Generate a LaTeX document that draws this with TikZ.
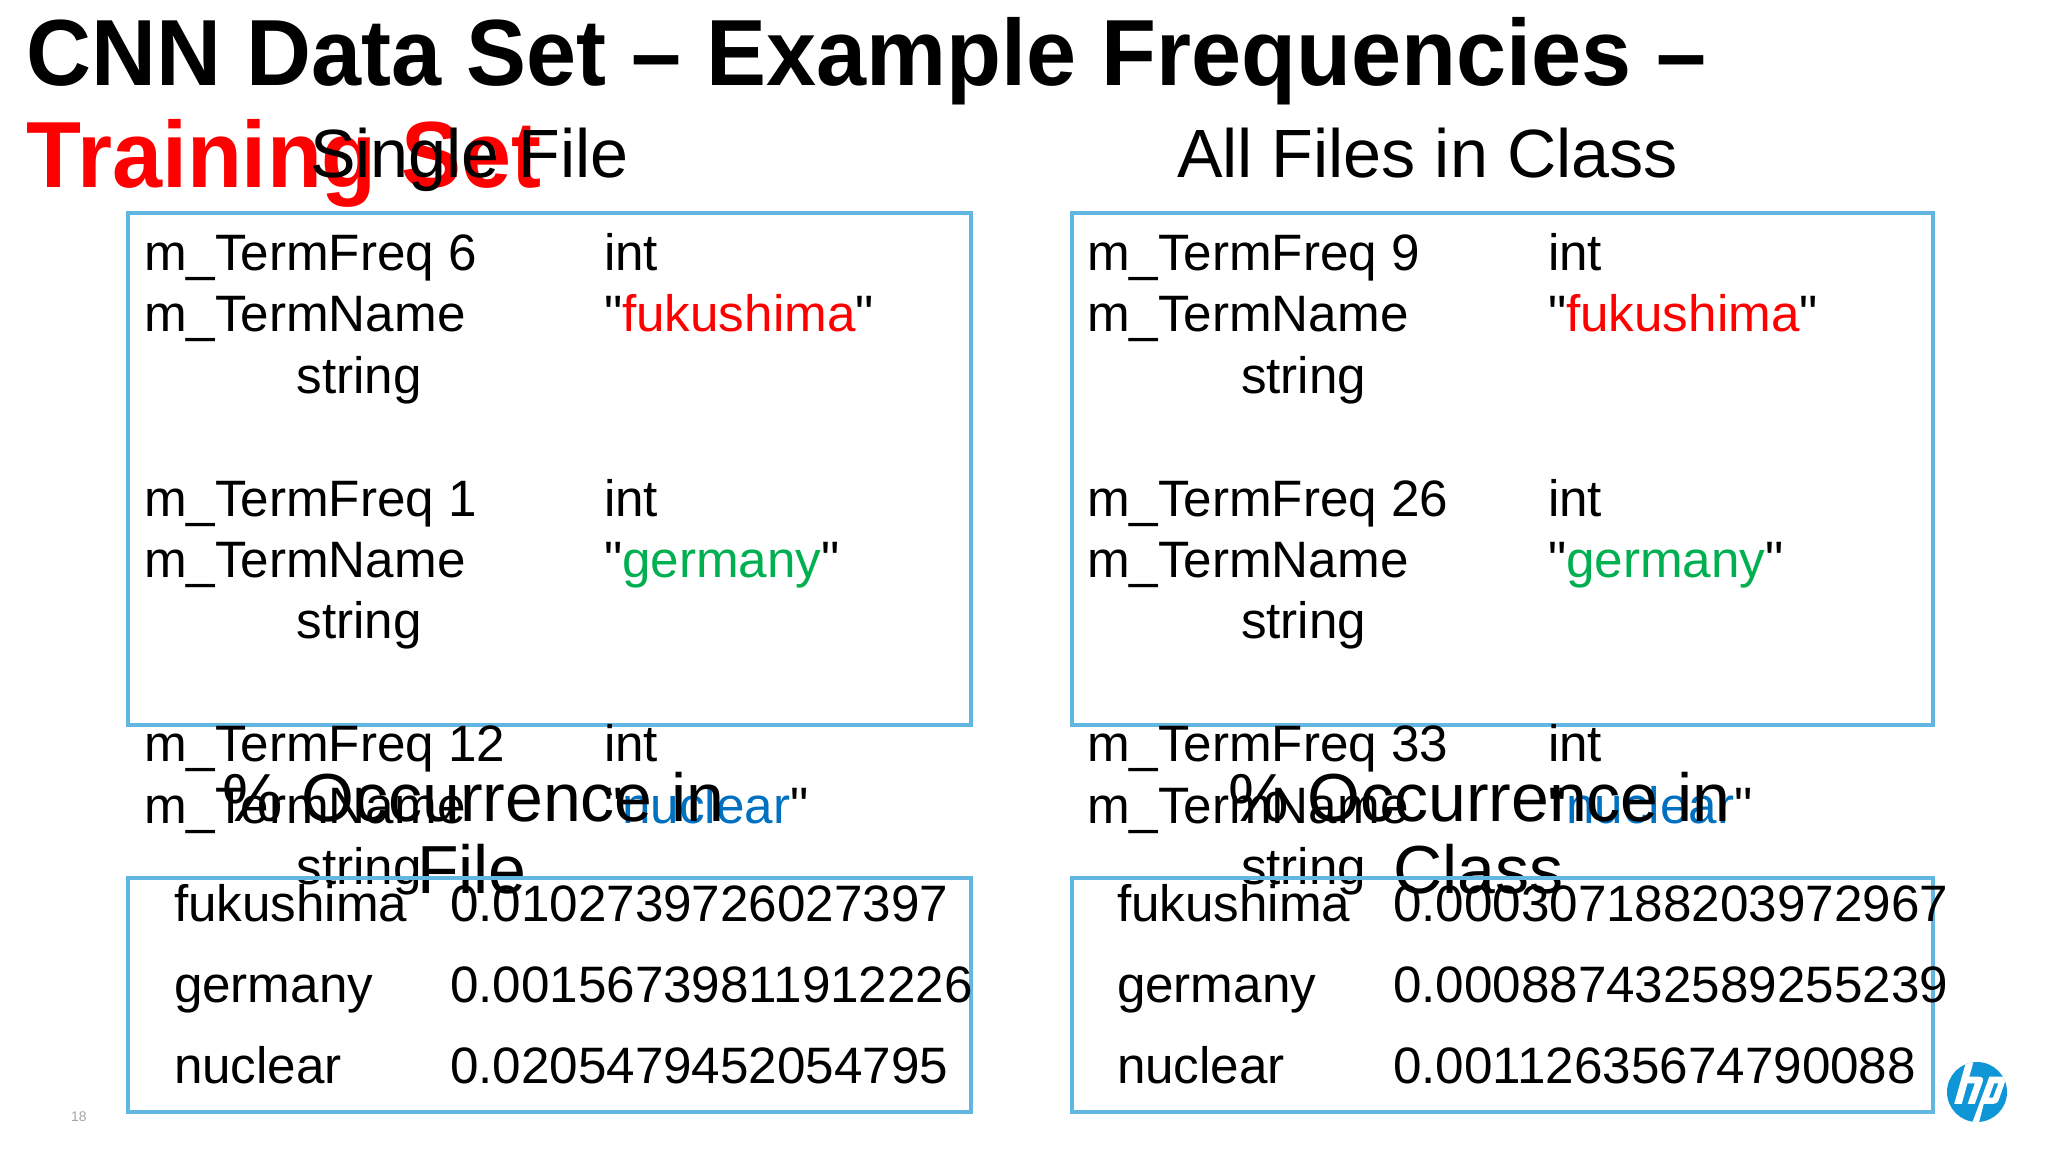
\documentclass[tikz,border=0pt]{standalone}
\usepackage{fontspec}
\setmainfont{Liberation Sans}
\newfontfamily\qfont{Liberation Sans}
\definecolor{boxblue}{HTML}{62B6E2}
\definecolor{hpblue}{HTML}{0E96D6}
\definecolor{tred}{HTML}{FF0000}
\definecolor{tgreen}{HTML}{00B050}
\definecolor{tblue}{HTML}{0070C0}
\newcommand{\fs}[1]{\fontsize{#1}{#1}\selectfont}
\newcommand{\Qm}{{\qfont"}}
\newcommand{\narrowtxt}[1]{\scalebox{0.957}[1]{#1}}
\tikzset{
  txt/.style={anchor=base west,inner sep=0pt,outer sep=0pt,font=\fs{51.2}},
  ttl/.style={anchor=base west,inner sep=0pt,outer sep=0pt,font=\fs{94}\bfseries},
  hdg/.style={anchor=base west,inner sep=0pt,outer sep=0pt,font=\fs{68.3}},
  occ/.style={anchor=base west,inner sep=0pt,outer sep=0pt,font=\fs{68}},
  panel/.style={draw=boxblue,line width=4pt,anchor=north west,inner sep=0pt,outer sep=0pt}
}
\begin{document}
\begin{tikzpicture}[x=1pt,y=-1pt]
\useasboundingbox[fill=white] (0,0) rectangle (2048,1152);
% title
\node[ttl] (t1) at (27,85) {\narrowtxt{CNN Data Set – Example Frequencies –}};
\node[ttl,text=tred] (t2) at (27,187) {\narrowtxt{Training Set}};
% headings
\node[hdg] (h1) at (310,177) {Single File};
\node[hdg] (h2) at (1177,177) {All Files in Class};
% upper panels
\node[panel,minimum width=842.5pt,minimum height=512pt] (p1) at (128,213) {};
\node[panel,minimum width=861.5pt,minimum height=512pt] (p2) at (1071.5,213) {};
% left list
\node[txt] (a1) at (144,270.4) {m\_TermFreq 6};
\node[txt] (a2) at (604,270.4) {int};
\node[txt] (a3) at (144,331.8) {m\_TermName};
\node[txt] (a4) at (604,331.8) {\Qm\textcolor{tred}{fukushima}\Qm};
\node[txt] (a5) at (296.5,393.2) {string};
\node[txt] (a6) at (144,516) {m\_TermFreq 1};
\node[txt] (a7) at (604,516) {int};
\node[txt] (a8) at (144,577.4) {m\_TermName};
\node[txt] (a9) at (604,577.4) {\Qm\textcolor{tgreen}{germany}\Qm};
\node[txt] (a10) at (296.5,638.8) {string};
\node[txt] (a11) at (144,761.6) {m\_TermFreq 12};
\node[txt] (a12) at (604,761.6) {int};
\node[txt] (a13) at (144,823) {m\_TermName};
\node[txt] (a14) at (604,823) {\Qm\textcolor{tblue}{nuclear}\Qm};
\node[txt] (a15) at (296.5,884.4) {string};
% right list
\node[txt] (b1) at (1087,270.4) {m\_TermFreq 9};
\node[txt] (b2) at (1548,270.4) {int};
\node[txt] (b3) at (1087,331.8) {m\_TermName};
\node[txt] (b4) at (1548,331.8) {\Qm\textcolor{tred}{fukushima}\Qm};
\node[txt] (b5) at (1241,393.2) {string};
\node[txt] (b6) at (1087,516) {m\_TermFreq 26};
\node[txt] (b7) at (1548,516) {int};
\node[txt] (b8) at (1087,577.4) {m\_TermName};
\node[txt] (b9) at (1548,577.4) {\Qm\textcolor{tgreen}{germany}\Qm};
\node[txt] (b10) at (1241,638.8) {string};
\node[txt] (b11) at (1087,761.6) {m\_TermFreq 33};
\node[txt] (b12) at (1548,761.6) {int};
\node[txt] (b13) at (1087,823) {m\_TermName};
\node[txt] (b14) at (1548,823) {\Qm\textcolor{tblue}{nuclear}\Qm};
\node[txt] (b15) at (1241,884.4) {string};
% occurrence headings
\node[occ] (o1) at (222,821) {\% Occurrence in};
\node[occ] (o2) at (417,893.5) {File};
\node[occ] (o3) at (1228,821) {\% Occurrence in};
\node[occ] (o4) at (1393,893.5) {Class};
% lower panels
\node[panel,minimum width=842.5pt,minimum height=234pt] (p3) at (128,878) {};
\node[panel,minimum width=861.5pt,minimum height=234pt] (p4) at (1071.5,878) {};
% left values
\node[txt] (c1) at (174,921.5) {fukushima};
\node[txt] (c2) at (450,921.5) {0.0102739726027397};
\node[txt] (c3) at (174,1002.5) {germany};
\node[txt] (c4) at (450,1002.5) {0.00156739811912226};
\node[txt] (c5) at (174,1083.5) {nuclear};
\node[txt] (c6) at (450,1083.5) {0.0205479452054795};
% right values
\node[txt] (d1) at (1117,921.5) {fukushima};
\node[txt] (d2) at (1393,921.5) {0.000307188203972967};
\node[txt] (d3) at (1117,1002.5) {germany};
\node[txt] (d4) at (1393,1002.5) {0.000887432589255239};
\node[txt] (d5) at (1117,1083.5) {nuclear};
\node[txt] (d6) at (1393,1083.5) {0.00112635674790088};
% page number
\node[anchor=center,inner sep=0pt,text=black!35,font=\fs{14}] (pg) at (79,1117) {18};
% logo
\fill[hpblue] (1977,1092) circle (30);
\begin{scope}[shift={(1940,1055)},x=0.3333pt,y=-0.3333pt]
\clip (111,111) circle (90);
\begin{scope}[shift={(111,111)},scale=1.12,shift={(-111,-111)}]
\fill[white] (90,0) -- (110,0) -- (70,143) -- (50,143) -- cycle;
\fill[white] (80,70) -- (116,70) .. controls (126,70) and (129,76) .. (126,84) -- (105,143) -- (86,143) -- (105,88) -- (75,88) -- cycle;
\fill[white,even odd rule] (144,70) -- (178,70) .. controls (186,70) and (188,76) .. (186,84) -- (170,130) .. controls (167,139) and (162,143) .. (154,143) -- (129,143) -- (112,210) -- (92,210) -- cycle
  (157,88) -- (168,88) -- (154,126) -- (143,126) -- cycle;
\end{scope}
\end{scope}
\end{tikzpicture}
\end{document}
